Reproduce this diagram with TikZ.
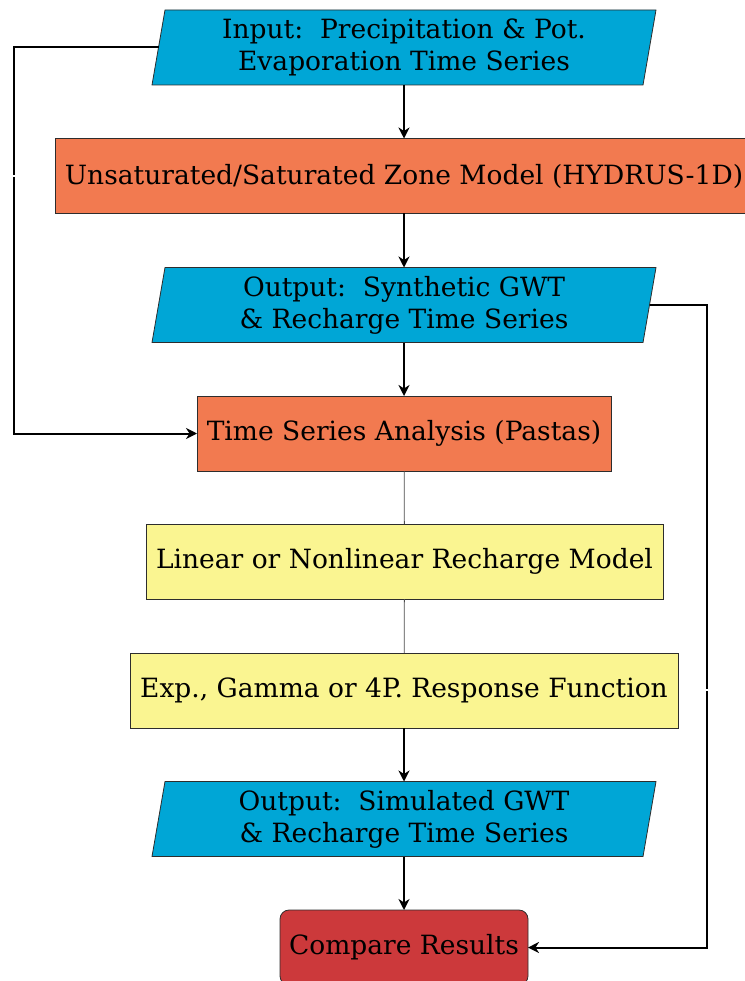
\documentclass[tikz,border=0pt]{standalone}
\usepackage{fontspec}
\setmainfont{DejaVu Serif}
\usetikzlibrary{arrows.meta,backgrounds,positioning}
\definecolor{ioblue}{RGB}{0,166,214}
\definecolor{procorange}{RGB}{242,122,80}
\definecolor{subyellow}{RGB}{250,245,145}
\definecolor{cmpred}{RGB}{204,57,59}
\definecolor{edgegray}{RGB}{45,45,45}
\tikzset{
  every node/.style={font=\fontsize{26.5}{32}\selectfont, text=black, outer sep=0pt, inner sep=0pt, align=center},
  iobox/.style={rectangle, draw=none, minimum width=491pt, minimum height=75pt},
  iofill/.style={fill=ioblue, draw=edgegray, line width=0.8pt},
  procbox/.style={rectangle, fill=procorange, draw=edgegray, line width=0.8pt, minimum height=75pt},
  subbox/.style={rectangle, fill=subyellow, draw=edgegray, line width=0.8pt, minimum height=75pt},
  cmpbox/.style={rectangle, rounded corners=9pt, fill=cmpred, draw=edgegray, line width=0.8pt, minimum height=75pt},
  flow/.style={draw=black, line width=2pt, -{Stealth[length=11pt,width=11pt,inset=3.5pt]}},
  thinlink/.style={draw=black!70, line width=0.8pt}
}
\newcommand{\iopara}[1]{%
  \begin{scope}[on background layer]
    \draw[iofill] ([xshift=-6.5pt]#1.south west) -- ([xshift=-6.5pt]#1.south east)
      -- ([xshift=6.5pt]#1.north east) -- ([xshift=6.5pt]#1.north west) -- cycle;
  \end{scope}}
\begin{document}
\begin{tikzpicture}[x=1pt,y=-1pt]
\useasboundingbox (0,0) rectangle (744,981);

\node[iobox] (in) at (404,47.5) {Input:\ \ Precipitation \& Pot.\\Evaporation Time Series};
\iopara{in}
\node[procbox, minimum width=698pt] (hyd) at (404,176) {Unsaturated/Saturated Zone Model (HYDRUS-1D)};
\node[iobox] (syn) at (404,305) {Output:\ \ Synthetic GWT\\\& Recharge Time Series};
\iopara{syn}
\node[procbox, minimum width=414pt] (tsa) at (404,433.5) {Time Series Analysis (Pastas)};
\node[subbox, minimum width=517pt] (lin) at (404.5,561.5) {Linear or Nonlinear Recharge Model};
\node[subbox, minimum width=548pt] (rsp) at (404,690.5) {Exp., Gamma or 4P. Response Function};
\node[iobox] (sim) at (404,819) {Output:\ \ Simulated GWT\\\& Recharge Time Series};
\iopara{sim}
\node[cmpbox, minimum width=248pt] (cmp) at (404,947.5) {Compare Results};

\coordinate (lx) at (14,0);
\coordinate (rx) at (707,0);

\draw[flow] (in) -- (hyd);
\draw[flow] (hyd) -- (syn);
\draw[flow] (syn) -- (tsa);
\draw[thinlink] (tsa) -- (lin);
\draw[thinlink] (lin) -- (rsp);
\draw[flow] (rsp) -- (sim);
\draw[flow] (sim) -- (cmp);
\draw[flow] (in.west) -| (lx |- hyd.center) |- (tsa.west);
\draw[flow] (syn.east) -| (rx |- rsp.center) |- (cmp.east);
\fill[white] (11,174.6) rectangle (18,176.6);
\fill[white] (704,688.6) rectangle (711,690.6);
\end{tikzpicture}
\end{document}
